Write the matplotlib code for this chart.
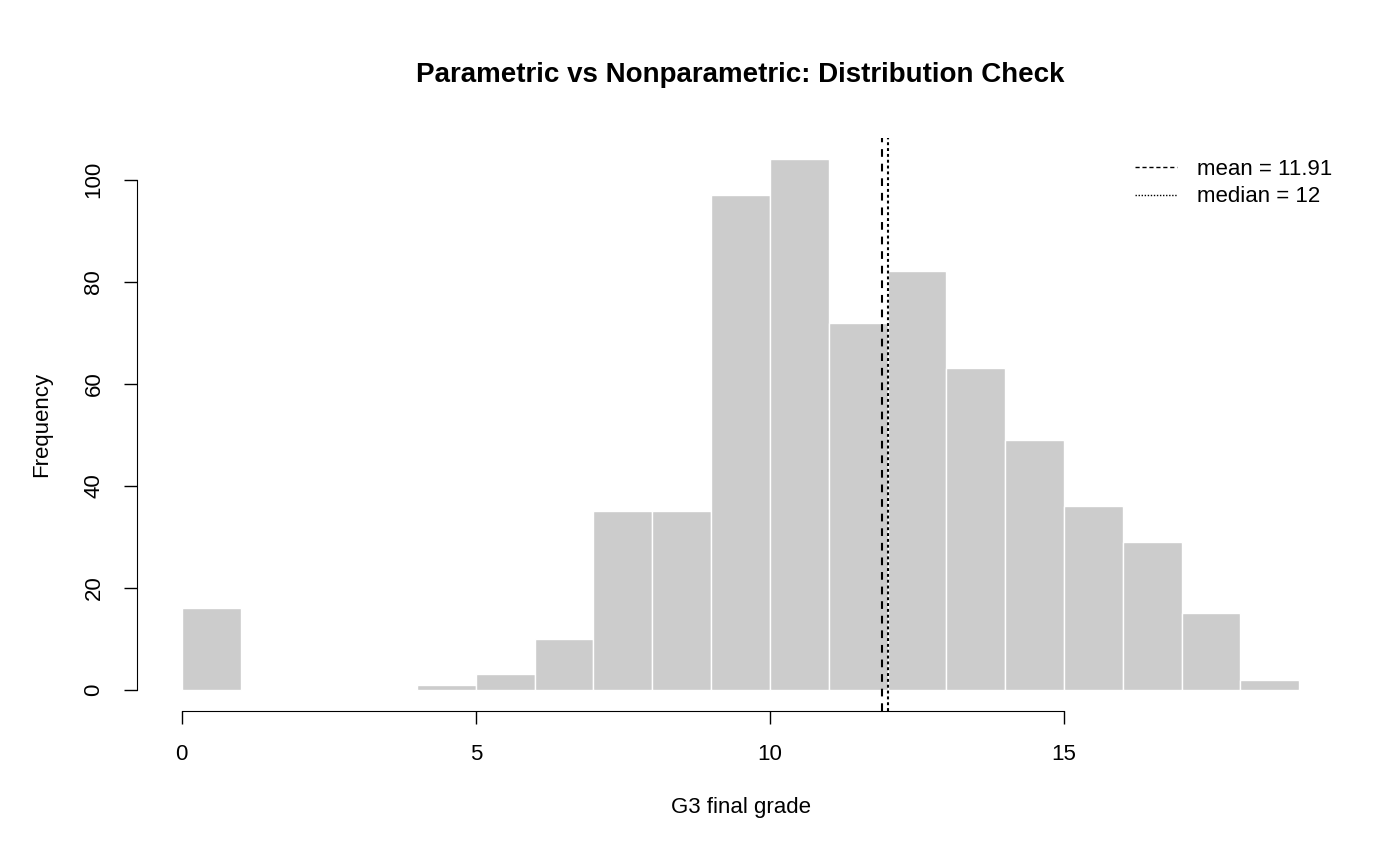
import matplotlib.pyplot as plt
from matplotlib.lines import Line2D
import numpy as np

plt.rcParams['font.family'] = ['Liberation Sans', 'DejaVu Sans']

# histogram of G3 (bin edges 0..19, width 1)
bin_edges = list(range(0, 20))
counts = [16, 0, 0, 0, 1, 3, 10, 35, 35, 97, 104, 72, 82, 63, 49, 36, 29, 15, 2]
mean_g3 = 11.91
median_g3 = 12

fig = plt.figure(figsize=(14, 8.5), dpi=100)
ax = fig.add_axes([0.0979, 0.1635, 0.8621, 0.6741])

left = np.array(bin_edges[:-1])
ax.bar(left, counts, width=1, align='edge', color='#cccccc', edgecolor='white', linewidth=1)

ax.axvline(mean_g3, color='black', linestyle=(0, (3.7, 3.3)), linewidth=1.5)
ax.axvline(median_g3, color='black', linestyle=(0, (1.4, 1.4)), linewidth=1.5)

ax.set_xlim(-0.76, 19.76)
ax.set_ylim(-4.16, 108.16)

for s in ['top', 'right']:
    ax.spines[s].set_visible(False)
ax.spines['bottom'].set_bounds(0, 15)
ax.spines['left'].set_bounds(0, 100)
ax.set_xticks([0, 5, 10, 15])
ax.set_yticks([0, 20, 40, 60, 80, 100])
ax.tick_params(axis='both', labelsize=16, length=9.5, width=1, pad=14)
plt.setp(ax.get_yticklabels(), rotation=90, va='center')

ax.set_xlabel('G3 final grade', fontsize=16, va='center')
ax.xaxis.set_label_coords(0.5, -0.169)
ax.set_ylabel('Frequency', fontsize=16, va='center')
ax.yaxis.set_label_coords(-0.0787, 0.5)
ax.set_title('Parametric vs Nonparametric: Distribution Check', fontsize=20,
             fontweight='bold', y=1.096, va='center')

handles = [Line2D([], [], color='black', lw=1, linestyle=(0, (3, 2))),
           Line2D([], [], color='black', lw=1, linestyle=(0, (1, 1.2)))]
labels = [f'mean = {mean_g3}', f'median = {median_g3}']
ax.legend(handles, labels, loc='upper right', bbox_to_anchor=(1.007, 0.999), frameon=False,
          fontsize=16, handlelength=1.9, handletextpad=0.9, labelspacing=0.3)

fig.savefig('out.png', dpi=100)
